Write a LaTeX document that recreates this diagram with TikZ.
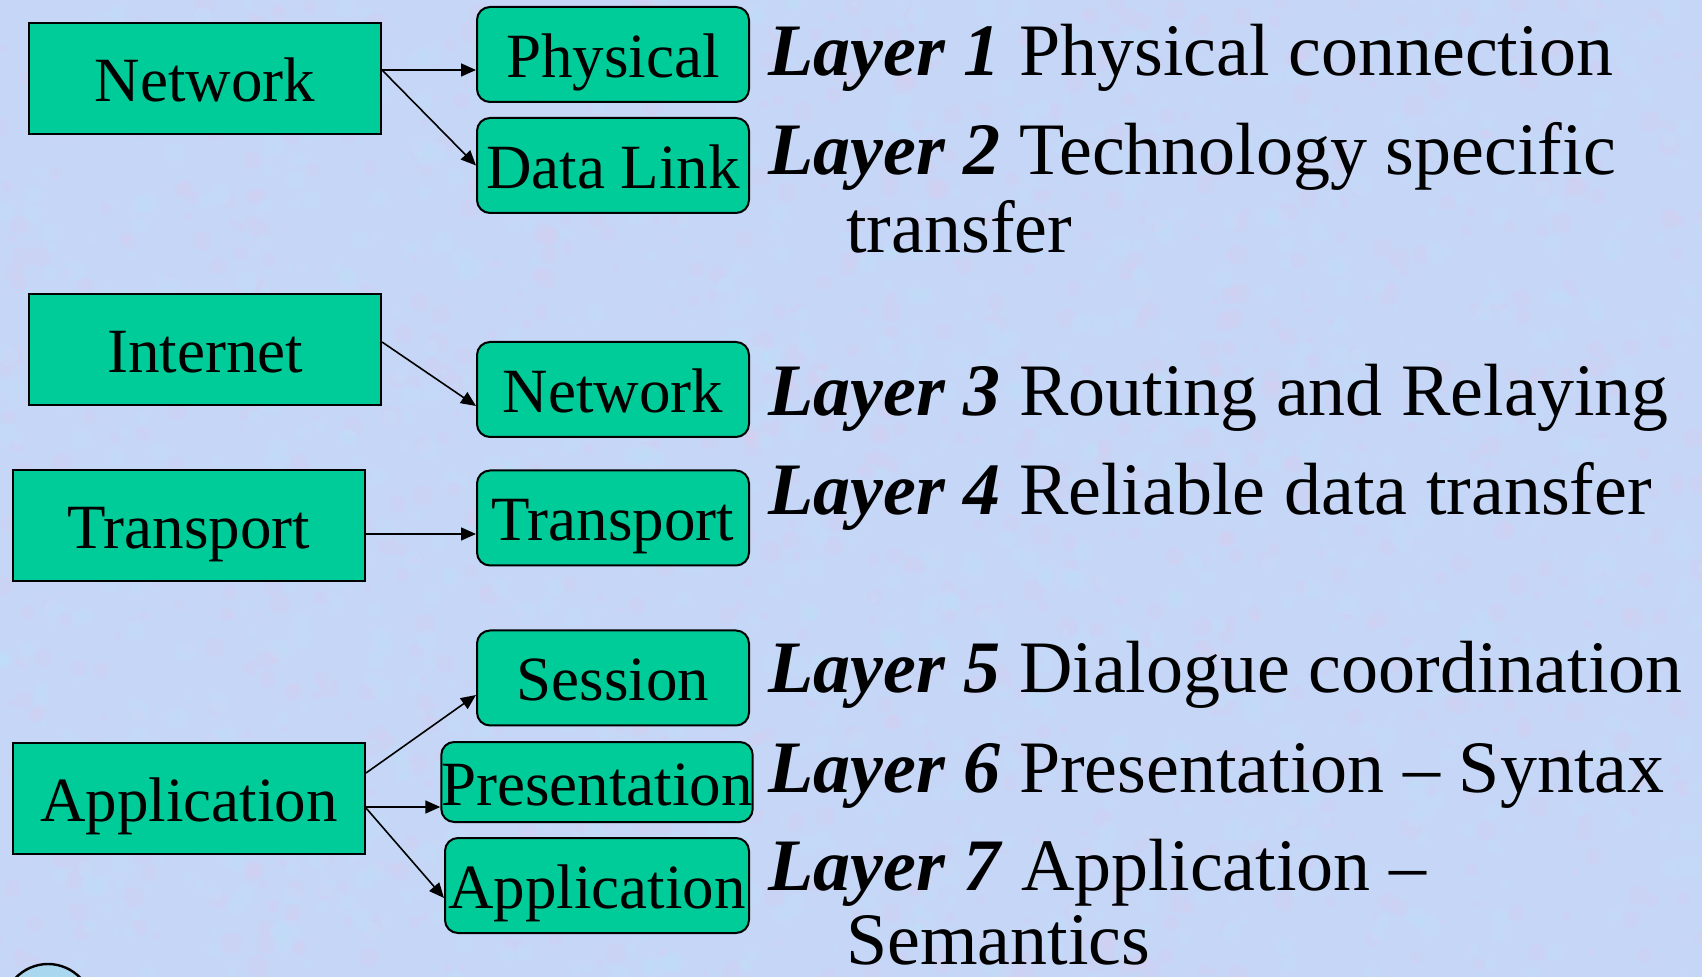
\documentclass[tikz,border=0pt]{standalone}
\usepackage{fontspec}
\setmainfont{Liberation Serif}
\usetikzlibrary{arrows.meta,calc}
\definecolor{bgc}{RGB}{198,214,246}
\definecolor{bgpink}{RGB}{226,202,238}
\definecolor{bgcyan}{RGB}{188,228,250}
\definecolor{boxg}{RGB}{0,204,153}
\definecolor{globe}{RGB}{170,215,240}
\begin{document}
\begin{tikzpicture}[x=0.5pt,y=-0.5pt,
  boxtext/.style={inner sep=0pt, font=\fontsize{31.5}{36}\selectfont, text height=23pt, text depth=0pt},
  sqbox/.style={boxtext, draw=black, line width=1pt, fill=boxg, minimum width=176pt, minimum height=55.5pt},
  rbox/.style={boxtext, draw=black, line width=1pt, fill=boxg, rounded corners=6.5pt, minimum width=136pt, minimum height=47.5pt},
  wbox/.style={rbox, minimum width=152pt},
  desc/.style={anchor=base west, inner sep=0pt, font=\fontsize{37}{44}\selectfont},
  arr/.style={line width=0.8pt, -{Triangle[length=7.5pt,width=6.5pt]}}
]
\useasboundingbox (0,0) rectangle (1702,977);
% background
\fill[bgc] (0,0) rectangle (1702,977);
\begin{scope}
\clip (0,0) rectangle (1702,977);
\pgfmathsetseed{7}
\foreach \i in {1,...,1200}{
  \pgfmathsetmacro{\px}{rnd*1702}
  \pgfmathsetmacro{\py}{rnd*977}
  \pgfmathsetmacro{\pr}{3+rnd*8}
  \fill[bgpink, opacity=0.2] (\px,\py) circle[radius=\pr*0.5pt];
}
\foreach \i in {1,...,1200}{
  \pgfmathsetmacro{\px}{rnd*1702}
  \pgfmathsetmacro{\py}{rnd*977}
  \pgfmathsetmacro{\pr}{3+rnd*8}
  \fill[bgcyan, opacity=0.25] (\px,\py) circle[radius=\pr*0.5pt];
}
% partial globe at bottom-left corner
\draw[line width=1.2pt, fill=globe] (48,1012) ellipse[x radius=23pt, y radius=24pt];
\end{scope}

% left boxes
\node[sqbox] (netL) at (205,78.5) {Network};
\node[sqbox] (inet) at (205,350) {Internet};
\node[sqbox] (transL) at (189,526) {Transport};
\node[sqbox] (appL) at (189,798) {Application};

% right boxes
\node[rbox] (phys) at (613,54.5) {Physical};
\node[rbox] (dl) at (613,165.5) {Data Link};
\node[rbox] (netR) at (613,389.5) {Network};
\node[rbox] (transR) at (613,518) {Transport};
\node[rbox] (sess) at (613,678) {Session};
\node[wbox, minimum height=40pt] (pres) at (597,782) {Presentation};
\node[wbox] (appR) at (597,885.5) {Application};

% connectors
\draw[arr] ($(netL.east)+(0,-8.5)$) -- ($(phys.west)+(0,15.5)$);
\draw[arr] ($(netL.east)+(0,-8.5)$) -- (dl.west);
\draw[arr] ($(inet.east)+(0,-8)$) -- ($(netR.west)+(0,16.5)$);
\draw[arr] ($(transL.east)+(0,8)$) -- ($(transR.west)+(0,16)$);
\draw[arr] ($(appL.east)+(0,-25)$) -- ($(sess.west)+(0,17)$);
\draw[arr] ($(appL.east)+(0,9)$) -- ($(pres.west)+(0,25)$);
\draw[arr] ($(appL.east)+(0,10)$) -- ($(appR.west)+(0,12.5)$);

% descriptions
\node[desc] (l1) at (768,76) {\textbf{\textit{Layer 1}} Physical connection};
\node[desc] (l2) at (768,175) {\textbf{\textit{Layer 2}} Technology specific};
\node[desc] (l2b) at (846,253) {transfer};
\node[desc] (l3) at (768,416) {\textbf{\textit{Layer 3}} Routing and Relaying};
\node[desc] (l4) at (768,515) {\textbf{\textit{Layer 4}} Reliable data transfer};
\node[desc] (l5) at (768,693) {\textbf{\textit{Layer 5}} Dialogue coordination};
\node[desc] (l6) at (768,792) {\textbf{\textit{Layer 6}} Presentation – Syntax};
\node[desc] (l7) at (768,890) {\textbf{\textit{Layer 7}} Application –};
\node[desc] (l7b) at (846,964) {Semantics};
\end{tikzpicture}
\end{document}
